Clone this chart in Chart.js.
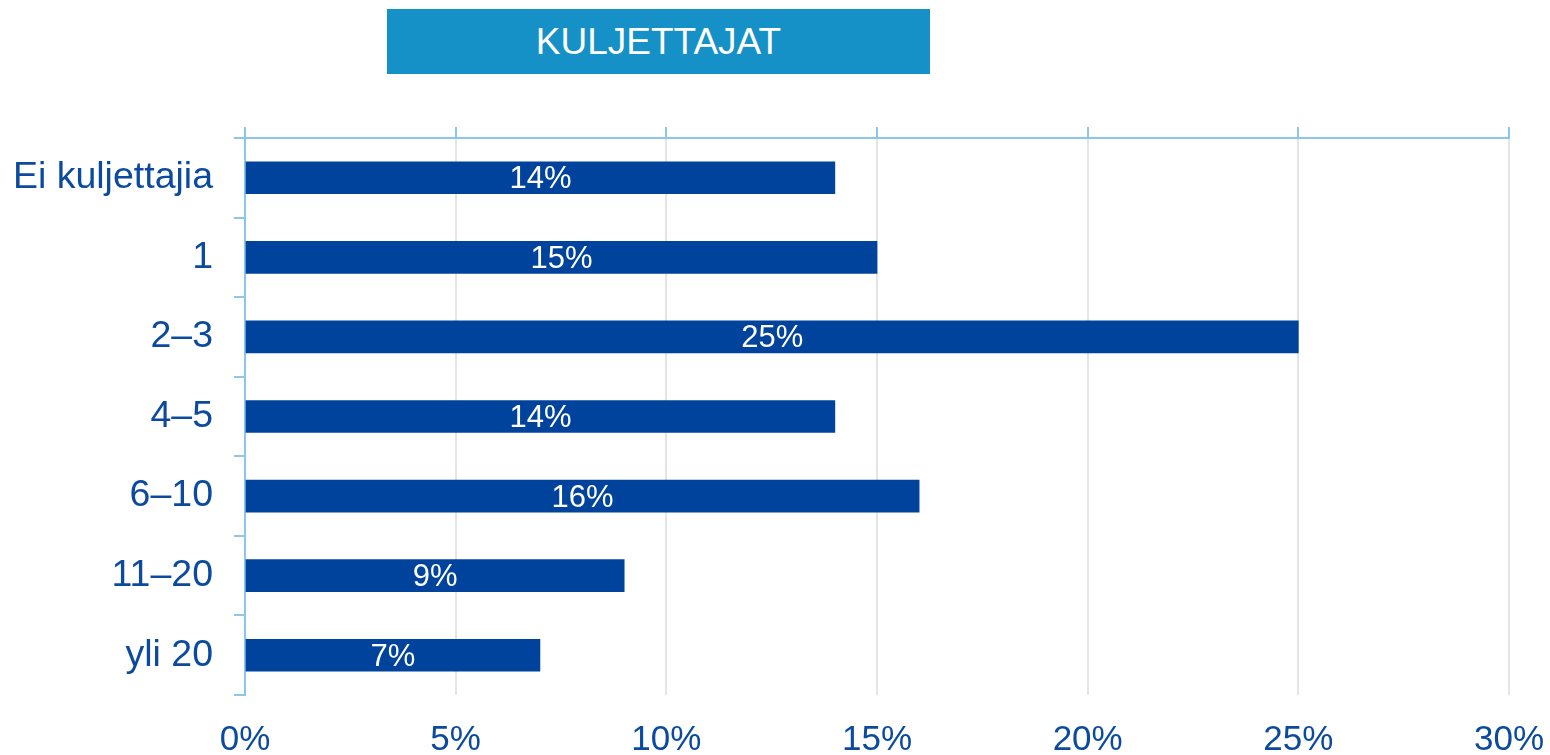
<!DOCTYPE html>
<html>
<head>
<meta charset="utf-8">
<script src="https://cdn.jsdelivr.net/npm/chart.js@4"></script>
<style>
    html, body { margin: 0; padding: 0; background: #ffffff; overflow: hidden; }
    #wrap { position: relative; width: 1550px; height: 755px; }
    #title {
        position: absolute; left: 387px; top: 9px; width: 543px; height: 65px;
        background: #1591c7; color: #ffffff;
        font-family: "Liberation Sans", Arial, sans-serif; font-size: 37px;
        line-height: 66px; text-align: center;
    }
    canvas { position: absolute; left: 0; top: 0; }
</style>
</head>
<body>
<div id="wrap">
    <canvas id="chart" width="1550" height="755"></canvas>
    <div id="title">KULJETTAJAT</div>
</div>
<script>
const categories = ["Ei kuljettajia", "1", "2–3", "4–5", "6–10", "11–20", "yli 20"]
const shares = [14, 15, 25, 14, 16, 9, 7]
const tickValues = [0, 5, 10, 15, 20, 25, 30]

const font = "'Liberation Sans', Arial, sans-serif"
const textBlue = "#0b4a9e"
const axisBlue = "#8cc6ec"

// white percent labels in the middle of each bar
const barLabels = {
    id: "barLabels",
    afterDatasetsDraw(chart) {
        const c = chart.ctx
        const meta = chart.getDatasetMeta(0)
        c.save()
        c.fillStyle = "#ffffff"
        c.font = "31px " + font
        c.textAlign = "center"
        c.textBaseline = "middle"
        meta.data.forEach((bar, i) => {
            c.fillText(shares[i] + "%", (bar.base + bar.x) / 2, bar.y + 2)
        })
        c.restore()
    }
}

const ctx = document.getElementById("chart")

new Chart(ctx, {
    type: "bar",
    data: {
        labels: categories,
        datasets: [{
            data: shares,
            backgroundColor: "#00439c",
            barThickness: 32
        }]
    },
    options: {
        indexAxis: "y",
        responsive: false,
        animation: false,
        layout: { padding: { top: 127, right: 41, bottom: 0, left: 0 } },
        plugins: { legend: { display: false }, tooltip: { enabled: false } },
        scales: {
            x: {
                position: "bottom",
                min: 0,
                max: 30,
                afterBuildTicks: (scale) => { scale.ticks = tickValues.map(v => ({ value: v })) },
                afterFit: (scale) => { scale.height = 60; scale.paddingLeft = 0; scale.paddingRight = 0 },
                border: { display: false },
                grid: {
                    color: (c) => c.tick && c.tick.value === 0 ? "rgba(0,0,0,0)" : "#e4e4e4",
                    lineWidth: 2,
                    drawTicks: false
                },
                ticks: {
                    padding: 24,
                    color: textBlue,
                    font: { family: font, size: 35 },
                    callback: (v) => v + "%"
                }
            },
            x2: {
                position: "top",
                min: 0,
                max: 30,
                afterBuildTicks: (scale) => { scale.ticks = tickValues.map(v => ({ value: v })) },
                afterFit: (scale) => { scale.height = 11; scale.paddingLeft = 0; scale.paddingRight = 0 },
                border: { color: axisBlue, width: 2 },
                grid: { drawOnChartArea: false, tickColor: axisBlue, tickLength: 11, lineWidth: 2 },
                ticks: { display: false }
            },
            y: {
                position: "left",
                afterFit: (scale) => { scale.width = 245 },
                border: { color: axisBlue, width: 2 },
                grid: { drawOnChartArea: false, tickColor: axisBlue, tickLength: 11, lineWidth: 2, offset: true },
                ticks: {
                    padding: 21,
                    color: textBlue,
                    font: { family: font, size: 37.5 }
                }
            }
        }
    },
    plugins: [barLabels]
})
</script>
</body>
</html>
